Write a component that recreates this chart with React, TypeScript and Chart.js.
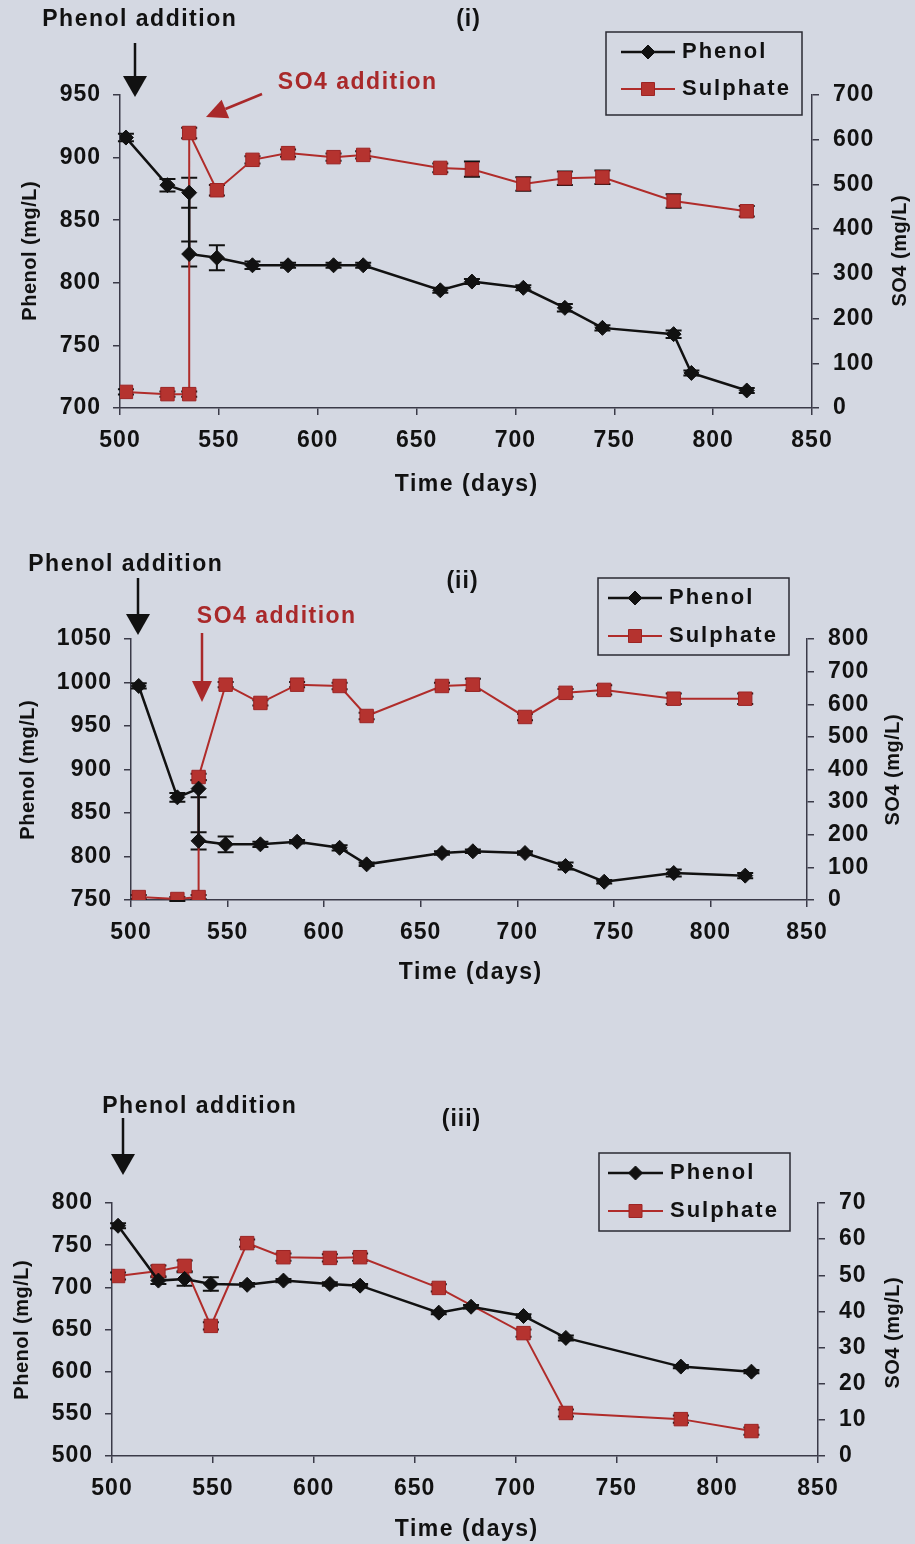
import React, { useEffect, useRef } from 'react';
import { Chart, registerables } from 'chart.js';

Chart.register(...registerables);

// ---------------- DATA ----------------
// Panel (i)
const daysPhenol1 = [503, 524, 535, 535, 549, 567, 585, 608, 623, 662, 678, 704, 725, 744, 780, 789, 817];
const phenol1 = [916, 878, 872, 823, 820, 814, 814, 814, 814, 794, 801, 796, 780, 764, 759, 728, 714];
const phenolErr1 = [3, 5, 12, 10, 10, 3, 2, 2, 2, 2, 2, 2, 3, 2, 3, 2, 2];
const daysSulphate1 = [503, 524, 535, 535, 549, 567, 585, 608, 623, 662, 678, 704, 725, 744, 780, 817];
const sulphate1 = [36, 31, 31, 615, 487, 555, 570, 561, 566, 537, 534, 501, 514, 516, 463, 440];
const sulphateErr1 = [6, 6, 6, 12, 12, 8, 8, 8, 8, 10, 17, 15, 15, 15, 15, 12];

// Panel (ii)
const daysPhenol2 = [504, 524, 535, 535, 549, 567, 586, 608, 622, 661, 677, 704, 725, 745, 781, 818];
const phenol2 = [996, 868, 878, 818, 814, 814, 817, 810, 791, 804, 806, 804, 789, 771, 781, 778];
const phenolErr2 = [3, 5, 10, 10, 9, 3, 2, 3, 2, 2, 2, 2, 4, 2, 4, 3];
const daysSulphate2 = [504, 524, 535, 535, 549, 567, 586, 608, 622, 661, 677, 704, 725, 745, 781, 818];
const sulphate2 = [9, 3, 9, 377, 660, 604, 660, 656, 564, 656, 660, 561, 635, 644, 617, 617];
const sulphateErr2 = [6, 6, 6, 10, 8, 8, 8, 10, 10, 10, 18, 10, 12, 14, 16, 16];

// Panel (iii)
const daysPhenol3 = [503, 523, 536, 549, 567, 585, 608, 623, 662, 678, 704, 725, 782, 817];
const phenol3 = [773, 708, 710, 704, 703, 708, 704, 702, 670, 677, 666, 640, 606, 600];
const phenolErr3 = [3, 4, 8, 8, 2, 2, 2, 2, 2, 2, 2, 3, 2, 2];
const daysSulphate3 = [503, 523, 536, 549, 567, 585, 608, 623, 662, 704, 725, 782, 817];
const sulphate3 = [49.8, 51.2, 52.6, 36, 58.9, 55, 54.8, 55, 46.5, 34, 11.9, 10.2, 6.9];
const sulphateErr3 = [1, 1.5, 1.5, 1, 1, 1, 1, 1, 1, 1, 1, 1, 1];

const seriesNames = ['Phenol', 'Sulphate'];
const panelLabels = ['(i)', '(ii)', '(iii)'];
const xTitle = 'Time (days)';
const yTitle = 'Phenol (mg/L)';
const y2Title = 'SO4 (mg/L)';
const phenolNote = 'Phenol addition';
const so4Note = 'SO4 addition';

// ---------------- STYLE ----------------
const W = 915;
const FONT = '"Liberation Sans", Arial, Helvetica, sans-serif';
const BG = '#d4d8e2';
const INK = '#111111';
const RED = '#b02c2a';
const RED_TEXT = '#a9292a';
const AXIS = '#3a3a48';

type Pt = [number, number];
type PanelCfg = {
  top: number;
  height: number;
  area: { left: number; right: number; top: number; bottom: number };
  y: [number, number, number];
  y2: [number, number, number];
  pDays: number[]; p: number[]; pErr: number[];
  sDays: number[]; s: number[]; sErr: number[];
  label: string; labelPos: Pt;
  phenolText: Pt; phenolArrow: { x: number; y0: number; y1: number };
  so4Text?: Pt; so4Arrow?: { x0: number; y0: number; x1: number; y1: number };
  legend: { x: number; y: number; w: number; h: number; r1: number; r2: number; l0: number; l1: number; tx: number };
  yTitlePos: Pt; y2TitlePos: Pt; xTitlePos: Pt;
};

const panels: PanelCfg[] = [
  {
    top: 0, height: 530,
    area: { left: 120, right: 812, top: 95, bottom: 408 },
    y: [700, 950, 50], y2: [0, 700, 100],
    pDays: daysPhenol1, p: phenol1, pErr: phenolErr1,
    sDays: daysSulphate1, s: sulphate1, sErr: sulphateErr1,
    label: panelLabels[0], labelPos: [468, 20],
    phenolText: [139, 20], phenolArrow: { x: 135, y0: 43, y1: 97 },
    so4Text: [357, 83], so4Arrow: { x0: 262, y0: 94, x1: 206, y1: 117 },
    legend: { x: 606, y: 32, w: 196, h: 83, r1: 52, r2: 89, l0: 621, l1: 675, tx: 682 },
    yTitlePos: [30, 251], y2TitlePos: [900, 251], xTitlePos: [466, 485],
  },
  {
    top: 530, height: 520,
    area: { left: 131, right: 807, top: 639, bottom: 900 },
    y: [750, 1050, 50], y2: [0, 800, 100],
    pDays: daysPhenol2, p: phenol2, pErr: phenolErr2,
    sDays: daysSulphate2, s: sulphate2, sErr: sulphateErr2,
    label: panelLabels[1], labelPos: [462, 582],
    phenolText: [125, 565], phenolArrow: { x: 138, y0: 578, y1: 635 },
    so4Text: [276, 617], so4Arrow: { x0: 202, y0: 633, x1: 202, y1: 702 },
    legend: { x: 598, y: 578, w: 191, h: 77, r1: 598, r2: 636, l0: 608, l1: 662, tx: 669 },
    yTitlePos: [28, 770], y2TitlePos: [893, 770], xTitlePos: [470, 973],
  },
  {
    top: 1050, height: 494,
    area: { left: 112, right: 818, top: 1203, bottom: 1456 },
    y: [500, 800, 50], y2: [0, 70, 10],
    pDays: daysPhenol3, p: phenol3, pErr: phenolErr3,
    sDays: daysSulphate3, s: sulphate3, sErr: sulphateErr3,
    label: panelLabels[2], labelPos: [461, 1120],
    phenolText: [199, 1107], phenolArrow: { x: 123, y0: 1118, y1: 1175 },
    legend: { x: 599, y: 1153, w: 191, h: 78, r1: 1173, r2: 1211, l0: 608, l1: 663, tx: 670 },
    yTitlePos: [22, 1330], y2TitlePos: [893, 1333], xTitlePos: [466, 1530],
  },
];

function drawArrow(ctx: CanvasRenderingContext2D, x0: number, y0: number, x1: number, y1: number,
  color: string, headLen: number, headW: number, lw: number) {
  const ang = Math.atan2(y1 - y0, x1 - x0);
  const bx = x1 - headLen * Math.cos(ang);
  const by = y1 - headLen * Math.sin(ang);
  ctx.save();
  ctx.strokeStyle = color;
  ctx.fillStyle = color;
  ctx.lineWidth = lw;
  ctx.beginPath();
  ctx.moveTo(x0, y0);
  ctx.lineTo(bx, by);
  ctx.stroke();
  ctx.beginPath();
  ctx.moveTo(x1, y1);
  ctx.lineTo(bx + (headW / 2) * Math.sin(ang), by - (headW / 2) * Math.cos(ang));
  ctx.lineTo(bx - (headW / 2) * Math.sin(ang), by + (headW / 2) * Math.cos(ang));
  ctx.closePath();
  ctx.fill();
  ctx.restore();
}

function text(ctx: CanvasRenderingContext2D, s: string, x: number, y: number, size: number,
  color: string, spacing: number, align: CanvasTextAlign = 'center', rot = 0) {
  ctx.save();
  ctx.translate(x, y);
  if (rot) ctx.rotate(rot);
  ctx.font = `bold ${size}px ${FONT}`;
  (ctx as any).letterSpacing = `${spacing}px`;
  ctx.fillStyle = color;
  ctx.textAlign = align;
  ctx.textBaseline = 'middle';
  ctx.fillText(s, align === 'center' ? spacing / 2 : 0, 0);
  ctx.restore();
}

function makeDecor(p: PanelCfg) {
  const oy = p.top;
  return {
    id: 'decor',
    beforeDraw(chart: any) {
      chart.ctx.letterSpacing = '1px';
    },
    beforeDatasetsDraw(chart: any) {
      const ctx: CanvasRenderingContext2D = chart.ctx;
      const errs = [p.pErr, p.sErr];
      const vals = [p.p, p.s];
      chart.data.datasets.forEach((ds: any, di: number) => {
        const meta = chart.getDatasetMeta(di);
        const scale = chart.scales[ds.yAxisID];
        ctx.save();
        ctx.strokeStyle = INK;
        ctx.lineWidth = 2;
        meta.data.forEach((el: any, j: number) => {
          const e = errs[di][j];
          const v = vals[di][j];
          const yTop = scale.getPixelForValue(v + e);
          const yBot = scale.getPixelForValue(v - e);
          ctx.beginPath();
          ctx.moveTo(el.x, yTop); ctx.lineTo(el.x, yBot);
          ctx.moveTo(el.x - 8, yTop); ctx.lineTo(el.x + 8, yTop);
          ctx.moveTo(el.x - 8, yBot); ctx.lineTo(el.x + 8, yBot);
          ctx.stroke();
        });
        ctx.restore();
      });
    },
    afterDraw(chart: any) {
      const ctx: CanvasRenderingContext2D = chart.ctx;
      // annotations
      text(ctx, phenolNote, p.phenolText[0], p.phenolText[1] - oy, 23, INK, 1.5);
      drawArrow(ctx, p.phenolArrow.x, p.phenolArrow.y0 - oy, p.phenolArrow.x, p.phenolArrow.y1 - oy, INK, 21, 24, 2.5);
      if (p.so4Text && p.so4Arrow) {
        text(ctx, so4Note, p.so4Text[0], p.so4Text[1] - oy, 23, RED_TEXT, 1.5);
        const a = p.so4Arrow;
        drawArrow(ctx, a.x0, a.y0 - oy, a.x1, a.y1 - oy, RED_TEXT, 21, 20, 2.5);
      }
      text(ctx, p.label, p.labelPos[0], p.labelPos[1] - oy, 23, INK, 1);
      // axis titles
      text(ctx, yTitle, p.yTitlePos[0], p.yTitlePos[1] - oy, 20, INK, 0.5, 'center', -Math.PI / 2);
      text(ctx, y2Title, p.y2TitlePos[0], p.y2TitlePos[1] - oy, 20, INK, 0.5, 'center', -Math.PI / 2);
      text(ctx, xTitle, p.xTitlePos[0], p.xTitlePos[1] - oy, 23, INK, 1.5);
      // legend
      const L = p.legend;
      ctx.save();
      ctx.strokeStyle = '#2a2a33';
      ctx.lineWidth = 1.5;
      ctx.strokeRect(L.x, L.y - oy, L.w, L.h);
      ctx.restore();
      const rows = [L.r1, L.r2];
      chart.data.datasets.forEach((ds: any, i: number) => {
        const ry = rows[i] - oy;
        ctx.save();
        ctx.strokeStyle = ds.borderColor;
        ctx.lineWidth = ds.borderWidth;
        ctx.beginPath();
        ctx.moveTo(L.l0, ry); ctx.lineTo(L.l1, ry);
        ctx.stroke();
        ctx.restore();
        const cx = (L.l0 + L.l1) / 2;
        ctx.save();
        ctx.fillStyle = ds.pointBackgroundColor;
        ctx.strokeStyle = ds.pointBorderColor;
        ctx.lineWidth = 1;
        ctx.beginPath();
        if (ds.pointStyle === 'rect') {
          ctx.rect(cx - 6.5, ry - 6.5, 13, 13);
        } else {
          ctx.moveTo(cx, ry - 7); ctx.lineTo(cx + 7, ry); ctx.lineTo(cx, ry + 7); ctx.lineTo(cx - 7, ry);
          ctx.closePath();
        }
        ctx.fill();
        ctx.stroke();
        ctx.restore();
        text(ctx, ds.label, L.tx, ry, 22, INK, 2, 'left');
      });
      (ctx as any).letterSpacing = '0px';
    },
  };
}

const plainNumber = (v: number | string) => String(v);

function PanelChart({ p }: { p: PanelCfg }) {
  const ref = useRef<HTMLCanvasElement>(null);
  useEffect(() => {
    const canvas = ref.current!;
    const tickFont = { family: FONT, size: 23, weight: 'bold' as const };
    const chart = new Chart(canvas, {
      type: 'line',
      data: {
        datasets: [
          {
            label: seriesNames[0],
            data: p.pDays.map((d, i) => ({ x: d, y: p.p[i] })),
            yAxisID: 'y',
            borderColor: INK,
            backgroundColor: INK,
            pointBackgroundColor: INK,
            pointBorderColor: INK,
            borderWidth: 2.5,
            pointStyle: 'rectRot',
            pointRadius: 7.5,
            pointBorderWidth: 1,
            tension: 0,
            order: 0,
          } as any,
          {
            label: seriesNames[1],
            data: p.sDays.map((d, i) => ({ x: d, y: p.s[i] })),
            yAxisID: 'y2',
            borderColor: RED,
            backgroundColor: RED,
            pointBackgroundColor: '#b5332f',
            pointBorderColor: '#9c2424',
            borderWidth: 2,
            pointStyle: 'rect',
            pointRadius: 9.5,
            pointBorderWidth: 1,
            tension: 0,
            order: 1,
          } as any,
        ],
      },
      options: {
        animation: false,
        responsive: false,
        maintainAspectRatio: false,
        events: [],
        layout: { padding: { top: p.area.top - p.top, left: 0, right: 0, bottom: 0 } },
        plugins: { legend: { display: false }, tooltip: { enabled: false }, title: { display: false } },
        scales: {
          x: {
            type: 'linear',
            min: 500,
            max: 850,
            ticks: { stepSize: 50, font: tickFont, color: INK, padding: 12, maxRotation: 0, autoSkip: false, callback: plainNumber },
            grid: { drawOnChartArea: false, drawTicks: true, tickLength: 7, color: AXIS, lineWidth: 1.5 },
            border: { display: true, color: AXIS, width: 1.5 },
            afterFit: (s: any) => { s.height = p.height - (p.area.bottom - p.top); },
          },
          y: {
            type: 'linear',
            position: 'left',
            min: p.y[0],
            max: p.y[1],
            ticks: { stepSize: p.y[2], font: tickFont, color: INK, padding: 12, autoSkip: false, callback: plainNumber },
            grid: { drawOnChartArea: false, drawTicks: true, tickLength: 7, color: AXIS, lineWidth: 1.5 },
            border: { display: true, color: AXIS, width: 1.5 },
            afterFit: (s: any) => { s.width = p.area.left; },
          },
          y2: {
            type: 'linear',
            position: 'right',
            min: p.y2[0],
            max: p.y2[1],
            ticks: { stepSize: p.y2[2], font: tickFont, color: INK, padding: 14, autoSkip: false, callback: plainNumber },
            grid: { drawOnChartArea: false, drawTicks: true, tickLength: 7, color: AXIS, lineWidth: 1.5 },
            border: { display: true, color: AXIS, width: 1.5 },
            afterFit: (s: any) => { s.width = W - p.area.right; },
          },
        },
      } as any,
      plugins: [makeDecor(p)],
    });
    return () => chart.destroy();
  }, [p]);
  return (
    <canvas
      ref={ref}
      width={W}
      height={p.height}
      style={{ position: 'absolute', left: 0, top: p.top, width: W, height: p.height, display: 'block' }}
    />
  );
}

export default function App() {
  useEffect(() => {
    document.body.style.margin = '0';
    document.body.style.background = BG;
  }, []);
  return (
    <div style={{ position: 'absolute', left: 0, top: 0, width: W, height: 1544, background: BG, overflow: 'hidden' }}>
      {panels.map((p, i) => (
        <PanelChart key={i} p={p} />
      ))}
    </div>
  );
}
